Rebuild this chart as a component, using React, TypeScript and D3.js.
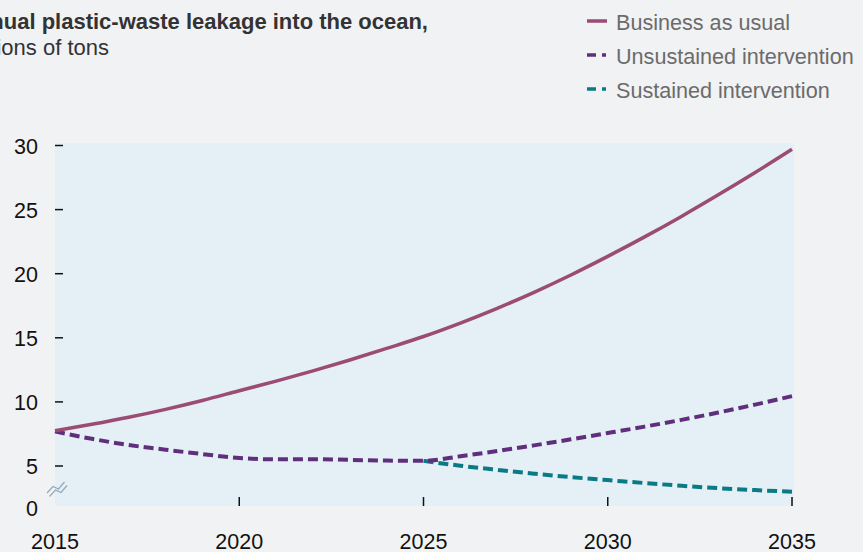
import React from "react";
import * as d3 from "d3";

const years = [2015, 2016, 2017, 2018, 2019, 2020, 2021, 2022, 2023, 2024, 2025, 2026, 2027, 2028, 2029, 2030, 2031, 2032, 2033, 2034, 2035];
const businessAsUsual = [7.75, 8.25, 8.8, 9.42, 10.11, 10.87, 11.62, 12.42, 13.27, 14.17, 15.1, 16.15, 17.3, 18.55, 19.9, 21.35, 22.87, 24.47, 26.15, 27.89, 29.7];
const unsustained = [7.7, 7.12, 6.64, 6.27, 5.93, 5.62, 5.52, 5.53, 5.48, 5.42, 5.4, 5.76, 6.17, 6.61, 7.08, 7.57, 8.07, 8.6, 9.17, 9.79, 10.45];
const sustainedYears = [2025, 2026, 2027, 2028, 2029, 2030, 2031, 2032, 2033, 2034, 2035];
const sustained = [5.4, 5.02, 4.7, 4.4, 4.13, 3.9, 3.67, 3.46, 3.27, 3.12, 3.0];
const yTicks = [5, 10, 15, 20, 25, 30];
const xTicks = [2015, 2020, 2025, 2030, 2035];
const legendLabels = ["Business as usual", "Unsustained intervention", "Sustained intervention"];
const titleText = "Annual plastic-waste leakage into the ocean,";
const subtitleText = "millions of tons";

const W = 863;
const H = 552;
const FONT = "'Liberation Sans', Arial, Helvetica, sans-serif";
const C_BAU = "#9b4b74";
const C_UNS = "#5f2f7c";
const C_SUS = "#0a7b86";

export default function App() {
  const plotLeft = 55;
  const plotRight = 794;
  const plotTop = 143;
  const plotBottom = 506;

  const x = d3.scaleLinear().domain([2015, 2035]).range([55, 792]);
  const y = d3.scaleLinear().domain([5, 30]).range([466, 145.5]);

  const line = d3
    .line<[number, number]>()
    .x((d) => x(d[0]))
    .y((d) => y(d[1]))
    .curve(d3.curveMonotoneX);

  const bauPath = line(years.map((yr, i) => [yr, businessAsUsual[i]]) as [number, number][]) || "";
  const unsPath = line(years.map((yr, i) => [yr, unsustained[i]]) as [number, number][]) || "";
  const susPath = line(sustainedYears.map((yr, i) => [yr, sustained[i]]) as [number, number][]) || "";

  const legendColors = [C_BAU, C_UNS, C_SUS];

  return (
    <svg
      width={W}
      height={H}
      style={{ position: "absolute", left: 0, top: 0, display: "block" }}
      fontFamily={FONT}
    >
      <rect x={0} y={0} width={W} height={H} fill="#f1f2f4" />

      {/* Title */}
      <text x={428} y={29} textAnchor="end" fontSize={22} fontWeight="bold" fill="#333">
        {titleText}
      </text>
      <text x={109} y={55} textAnchor="end" fontSize={22} fill="#333">
        {subtitleText}
      </text>

      {/* Legend */}
      {legendLabels.map((lab, i) => {
        const ly = 21 + i * 34;
        return (
          <g key={lab}>
            {i === 0 ? (
              <line x1={587} x2={607} y1={ly} y2={ly} stroke={legendColors[i]} strokeWidth={3.5} />
            ) : (
              <g>
                <line x1={587} x2={596} y1={ly} y2={ly} stroke={legendColors[i]} strokeWidth={3.5} />
                <line x1={602} x2={606} y1={ly} y2={ly} stroke={legendColors[i]} strokeWidth={3.5} />
              </g>
            )}
            <text x={616} y={ly + 8.5} fontSize={21.6} fill="#6b6b6b">
              {lab}
            </text>
          </g>
        );
      })}

      {/* Plot background */}
      <rect
        x={plotLeft}
        y={plotTop}
        width={plotRight - plotLeft}
        height={plotBottom - plotTop}
        fill="#e4eff6"
      />

      {/* Y axis ticks and labels */}
      {yTicks.map((t) => (
        <g key={t}>
          <line x1={55} x2={63} y1={y(t)} y2={y(t)} stroke="#111" strokeWidth={1.5} />
          <text x={38} y={y(t) + 8} textAnchor="end" fontSize={21.5} fill="#111">
            {t}
          </text>
        </g>
      ))}
      <text x={38} y={516} textAnchor="end" fontSize={21.5} fill="#111">
        0
      </text>

      {/* Axis break symbol */}
      <path d="M47,493 L53,486.5 L58.5,489 L64.5,482" fill="none" stroke="#8fa9bb" strokeWidth={1.2} />
      <path d="M49.5,496.5 L55.5,490 L61,492.5 L67,485.5" fill="none" stroke="#8fa9bb" strokeWidth={1.2} />

      {/* X axis ticks and labels */}
      {xTicks.map((t) => (
        <g key={t}>
          {t !== 2015 && (
            <line x1={x(t)} x2={x(t)} y1={497} y2={506} stroke="#111" strokeWidth={1.5} />
          )}
          <text x={x(t)} y={549} textAnchor="middle" fontSize={21.5} fill="#111">
            {t}
          </text>
        </g>
      ))}

      {/* Lines */}
      <path d={susPath} fill="none" stroke={C_SUS} strokeWidth={4} strokeDasharray="10,5" />
      <path d={unsPath} fill="none" stroke={C_UNS} strokeWidth={4} strokeDasharray="10,5" />
      <path d={bauPath} fill="none" stroke={C_BAU} strokeWidth={3.5} />
    </svg>
  );
}
